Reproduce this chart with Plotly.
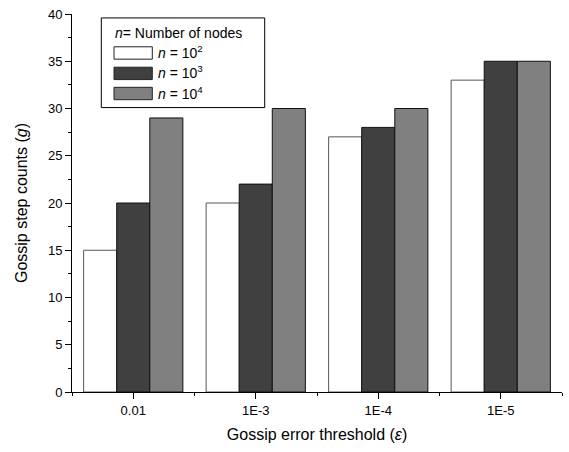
import plotly.graph_objects as go

categories = ["0.01", "1E-3", "1E-4", "1E-5"]
series_names = ["<i>n</i> = 10<sup>2</sup>", "<i>n</i> = 10<sup>3</sup>", "<i>n</i> = 10<sup>4</sup>"]
n100 = [15, 20, 27, 33]
n1000 = [20, 22, 28, 35]
n10000 = [29, 30, 30, 35]
y_ticks = [0, 5, 10, 15, 20, 25, 30, 35, 40]
legend_title = "<i>n</i>= Number of nodes"

fills = ["#ffffff", "#404040", "#808080"]
lines = ["#555555", "#111111", "#111111"]

W, H = 569, 452
ML, MR, MT, MB = 72, 7, 7, 60
PW, PH = W - ML - MR, H - MT - MB


def px(x):
    return (x - ML) / PW


def py(y):
    return (H - MB - y) / PH


xpos = list(range(len(categories)))
fig = go.Figure()
for name, vals, fc, lc in zip(series_names, [n100, n1000, n10000], fills, lines):
    fig.add_trace(go.Bar(x=xpos, y=vals, name=name, showlegend=False,
                         marker=dict(color=fc, line=dict(color=lc, width=1))))

# custom legend (box, swatches, labels)
shapes = [dict(type="rect", xref="paper", yref="paper",
               x0=px(101.3), x1=px(264.7), y0=py(102.3), y1=py(11),
               line=dict(color="black", width=1), fillcolor="white", layer="above")]
annotations = [dict(xref="paper", yref="paper", x=px(113), y=py(26.5),
                    xanchor="left", yanchor="middle", showarrow=False,
                    text=legend_title, font=dict(size=14))]
row_centers = [46.7, 67.5, 88]
for name, fc, lc, yc in zip(series_names, fills, lines, row_centers):
    shapes.append(dict(type="rect", xref="paper", yref="paper",
                       x0=px(114), x1=px(152.3), y0=py(yc + 6.3), y1=py(yc - 6.3),
                       line=dict(color="#222222", width=1), fillcolor=fc, layer="above"))
    annotations.append(dict(xref="paper", yref="paper", x=px(155.5), y=py(yc - 1),
                            xanchor="left", yanchor="middle", showarrow=False,
                            text=name, font=dict(size=14)))

font = "Liberation Sans, Arial, sans-serif"
fig.update_layout(
    width=W, height=H,
    margin=dict(l=ML, r=MR, t=MT, b=MB),
    paper_bgcolor="white", plot_bgcolor="white",
    barmode="group", bargap=0.19, bargroupgap=0,
    font=dict(family=font, size=13, color="black"),
    showlegend=False,
    shapes=shapes, annotations=annotations,
    xaxis=dict(range=[-0.5, 3.5], tickmode="array", tickvals=xpos, ticktext=categories,
               showline=True, linecolor="black", linewidth=1,
               ticks="outside", ticklen=6, tickcolor="black", showgrid=False,
               zeroline=False, tickfont=dict(size=13), ticklabeloverflow="allow",
               minor=dict(tickmode="array", tickvals=[-0.5, 0.5, 1.5, 2.5, 3.5],
                          ticks="outside", ticklen=3, tickcolor="black"),
               title=dict(text="Gossip error threshold (<i>ε</i>)", font=dict(size=16), standoff=12)),
    yaxis=dict(range=[0, 40], tickmode="array", tickvals=y_ticks,
               showline=True, linecolor="black", linewidth=1,
               ticks="outside", ticklen=6, tickcolor="black", showgrid=False,
               zeroline=False, tickfont=dict(size=13), ticklabeloverflow="allow",
               minor=dict(dtick=2.5, ticks="outside", ticklen=3, tickcolor="black"),
               title=dict(text="Gossip step counts (<i>g</i>)", font=dict(size=16), standoff=16)),
)
fig.write_html("out.html", config={"displayModeBar": False},
               post_script="document.body.style.margin='0';")
